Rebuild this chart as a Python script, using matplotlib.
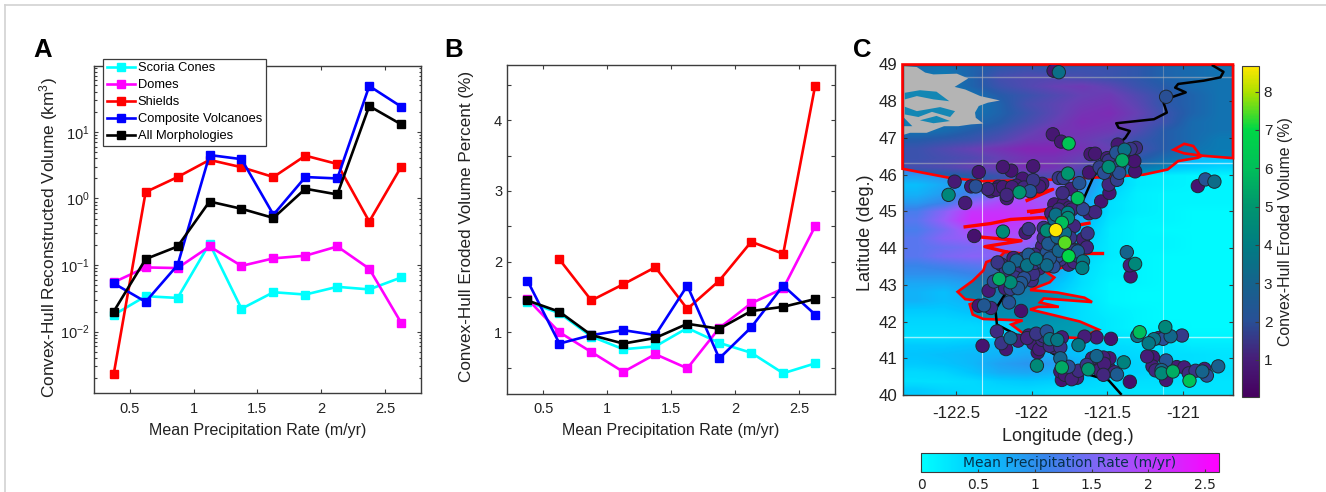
#Three panel figure: reconstructed volume, eroded percent, map of volcanoes

import numpy as np
import matplotlib
matplotlib.use('Agg')
import matplotlib.pyplot as plt
from matplotlib.cm import ScalarMappable
from matplotlib.colors import LinearSegmentedColormap, Normalize
from matplotlib.lines import Line2D
from matplotlib.patches import Polygon

plt.rcParams['font.family'] = ['Liberation Sans', 'DejaVu Sans']
plt.rcParams['mathtext.default'] = 'regular'

W, H = 1326, 492
DARK = '#3c3c3c'

rate = [0.375, 0.625, 0.875, 1.125, 1.375, 1.625, 1.875, 2.125, 2.375, 2.625]
names = ['Scoria Cones', 'Domes', 'Shields', 'Composite Volcanoes', 'All Morphologies']
colors = ['#00ffff', '#ff00ff', '#ff0000', '#0000ff', '#000000']

vol_scoria = [0.0178, 0.034, 0.032, 0.21, 0.022, 0.039, 0.036, 0.047, 0.043, 0.065]
vol_domes = [0.055, 0.092, 0.09, 0.19, 0.097, 0.126, 0.138, 0.19, 0.088, 0.0135]
vol_shields = [0.0023, 1.25, 2.1, 3.8, 2.95, 2.1, 4.4, 3.3, 0.45, 3.0]
vol_composite = [0.053, 0.028, 0.1, 4.5, 3.9, 0.57, 2.1, 2.0, 49, 24]
vol_all = [0.02, 0.123, 0.19, 0.9, 0.7, 0.51, 1.4, 1.15, 24.5, 13]

ero_scoria = [1.43, 1.27, 0.94, 0.76, 0.8, 1.06, 0.85, 0.71, 0.42, 0.56]
ero_domes = [1.47, 1.0, 0.72, 0.44, 0.69, 0.49, 1.06, 1.41, 1.62, 2.5]
ero_shields = [np.nan, 2.03, 1.45, 1.68, 1.92, 1.33, 1.73, 2.28, 2.11, 4.49]
ero_composite = [1.73, 0.84, 0.96, 1.03, 0.96, 1.66, 0.63, 1.07, 1.66, 1.25]
ero_all = [1.45, 1.29, 0.96, 0.84, 0.92, 1.12, 1.05, 1.3, 1.36, 1.47]

precip = [
    [.9, .8, 1.0, 1.2, 1.3, 1.2, 1.3, 1.3, 1.2, 1.0, .9, .8],
    [.8, .7, 1.0, 1.4, 1.5, 1.5, 1.4, 1.3, 1.2, 1.0, .9, .8],
    [.7, .7, 1.0, 1.3, 1.5, 1.7, 1.8, 1.6, 1.3, 1.1, .9, .8],
    [.7, .6, .8, 1.1, 1.3, 1.5, 1.7, 1.8, 1.5, 1.2, 1.0, .8],
    [.6, .6, .7, 1.0, 1.4, 1.6, 1.8, 1.9, 1.6, 1.2, 1.0, .8],
    [.7, .7, .8, 1.0, 1.3, 1.6, 1.9, 2.0, 1.7, 1.3, 1.0, .8],
    [.7, .8, .9, 1.1, 1.4, 1.7, 2.0, 1.9, 1.6, 1.3, .9, .8],
    [.8, .9, 1.1, 1.3, 1.6, 1.9, 1.9, 1.8, 1.5, 1.1, .9, .8],
    [1.1, 1.2, 1.3, 1.5, 1.8, 1.9, 1.8, 1.6, 1.3, 1.1, .9, .7],
    [1.3, 1.5, 1.7, 1.9, 2.1, 2.1, 1.9, 1.7, 1.4, 1.1, .8, .7],
    [1.3, 1.4, 1.5, 1.7, 1.9, 1.9, 1.7, 1.5, 1.2, .9, .7, .6],
    [1.4, 1.5, 1.7, 1.8, 2.0, 1.9, 1.6, 1.1, .8, .6, .5, .4],
    [.9, 1.0, 1.1, 1.3, 1.5, 1.5, 1.2, .5, .2, .15, .1, .1],
    [.6, .8, 1.0, 1.3, 1.5, 1.6, 1.1, .5, .2, .15, .1, .1],
    [.7, .9, 1.2, 1.5, 1.7, 1.6, 1.0, .4, .15, .1, .1, .1],
    [.9, 1.1, 1.6, 1.9, 1.9, 1.7, .9, .3, .15, .1, .1, .1],
    [1.2, 1.6, 2.1, 2.1, 2.0, 1.7, .8, .3, .15, .1, .05, .05],
    [1.3, 1.7, 2.2, 2.2, 2.0, 1.6, .7, .25, .1, .1, .05, .05],
    [1.2, 1.5, 1.9, 2.0, 1.9, 1.5, .6, .2, .1, .05, .05, .05],
    [1.3, 1.6, 1.7, 1.8, 1.8, 1.4, .5, .2, .1, .1, .05, .05],
    [1.3, 1.4, 1.5, 1.6, 1.6, 1.2, .4, .2, .1, .1, .05, .05],
    [1.3, 1.5, 1.6, 1.6, 1.5, 1.1, .4, .2, .1, .05, .05, .05],
    [1.1, 1.2, 1.3, 1.4, 1.3, .9, .35, .15, .1, .05, .05, .05],
    [1.0, 1.0, 1.1, 1.2, 1.1, .8, .3, .15, .1, .05, .05, .05],
    [.8, .8, .9, 1.0, 1.0, .6, .3, .1, .1, .05, .05, .05],
    [.7, .6, .8, .9, .8, .5, .25, .1, .05, .05, .05, .05],
    [.7, .6, .7, .8, .7, .5, .3, .1, .05, .05, .05, .05],
    [.5, .5, .6, .6, .6, .5, .3, .15, .1, .05, .05, .05],
    [.4, .4, .45, .5, .5, .45, .3, .2, .1, .05, .05, .05],
    [.35, .35, .35, .4, .4, .35, .3, .2, .1, .1, .05, .05],
    [.3, .3, .35, .4, .45, .4, .3, .25, .2, .15, .1, .1],
    [.5, .5, .55, .65, .7, .6, .5, .35, .3, .3, .2, .2],
    [.55, .6, .65, .7, .8, .7, .55, .4, .35, .3, .3, .25],
    [.5, .55, .65, .85, .95, .9, .7, .5, .4, .35, .3, .25],
    [.35, .4, .55, .75, .8, .7, .55, .4, .4, .3, .3, .3],
    [.3, .3, .35, .45, .5, .45, .4, .3, .3, .3, .3, .25],
    [.5, .4, .35, .35, .35, .3, .3, .3, .25, .25, .25, .25],
]

#volcanoes
lon = [-121.855, -121.82, -121.11, -121.86, -121.805, -121.755, -121.61, -121.58, -121.43, -121.385,
       -121.345, -121.31, -121.49, -121.47, -121.435, -121.40, -121.49, -121.32, -121.315, -121.52,
       -121.42, -121.435, -121.49, -121.485, -121.54, -121.58, -121.66, -121.62, -121.76, -121.82,
       -121.79, -121.685, -121.74, -121.795, -121.695, -121.99, -122.19, -122.135, -122.35, -122.51,
       -122.06, -121.99, -121.93, -121.95, -122.40, -122.37, -122.29, -122.235, -122.19, -122.13,
       -122.165, -122.165, -122.08, -122.01, -122.55, -122.44, -122.38, -122.19, -122.04, -122.02,
       -121.85, -121.79, -121.735, -121.84, -121.76, -121.76, -121.80, -121.90, -121.92, -121.84,
       -121.78, -121.83, -121.92, -121.89, -121.78, -121.745, -121.66, -121.63, -121.635, -121.67,
       -121.695, -121.82, -121.90, -121.755, -122.225, -122.15, -122.10, -122.03, -121.97, -122.02,
       -122.12, -121.90, -121.99, -121.855, -121.66, -121.665, -121.755, -121.81, -122.10, -122.02,
       -122.215, -122.14, -122.25, -122.285, -122.07, -122.09, -122.175, -122.14, -122.35, -122.315,
       -122.27, -122.15, -122.07, -122.23, -122.14, -122.20, -122.17, -122.325, -122.09, -122.02,
       -121.97, -121.90, -121.96, -121.99, -121.88, -121.83, -121.80, -121.81, -121.88, -121.65,
       -121.57, -121.475, -121.69, -121.965, -121.81, -121.57, -121.525, -121.485, -121.80, -121.756,
       -121.81, -121.80, -121.735, -121.69, -121.635, -121.625, -121.55, -121.49, -121.525, -121.435,
       -121.39, -121.35, -121.37, -121.315, -121.35, -121.345, -120.90, -120.85, -120.79, -121.285,
       -121.30, -121.115, -121.19, -121.225, -121.16, -121.13, -121.08, -121.005, -121.235, -121.197,
       -121.20, -121.18, -121.14, -121.11, -121.14, -121.065, -121.11, -121.04, -120.99, -120.96,
       -120.955, -120.915, -120.87, -120.84, -120.856, -120.765,
       -122.2, -122.17, -122.07, -122.05, -121.98, -121.93, -121.88, -121.83, -121.7, -121.72,
       -121.95, -121.98, -122.05, -122.11, -122.18, -122.05, -122.0, -121.87, -121.82, -121.75,
       -121.68, -121.62, -121.85, -121.72, -121.87, -121.85, -121.93, -121.82, -121.75, -121.72,
       -122.22, -122.1, -122.05, -122.27, -122.05, -121.93, -121.85, -121.95, -121.92, -121.83,
       -121.87, -122.03, -121.95, -121.55, -121.45, -121.78, -121.70, -121.52, -121.6, -121.5,
       -121.55, -121.42, -121.45, -121.4, -121.44, -121.5]
lat = [48.83, 48.79, 48.12, 47.10, 46.90, 46.85, 46.56, 46.57, 46.82, 46.68,
       46.70, 46.73, 46.38, 46.41, 46.37, 46.39, 46.21, 46.37, 46.09, 46.05,
       46.05, 45.86, 45.73, 45.50, 45.27, 44.98, 45.06, 46.06, 46.03, 45.91,
       45.91, 45.77, 45.61, 45.50, 45.36, 46.23, 46.21, 46.11, 46.07, 45.81,
       45.89, 45.85, 45.75, 45.68, 45.68, 45.68, 45.61, 45.59, 45.66, 45.66,
       45.45, 45.36, 45.52, 45.55, 45.45, 45.23, 44.33, 44.45, 44.42, 44.52,
       45.19, 45.19, 45.05, 44.91, 44.96, 44.82, 44.69, 44.48, 44.55, 44.49,
       44.41, 44.30, 44.28, 44.12, 44.15, 44.28, 44.25, 44.40, 44.02, 44.0,
       43.91, 43.93, 43.87, 43.78, 43.61, 43.46, 43.66, 43.53, 43.71, 43.82,
       43.73, 43.53, 43.30, 43.5, 43.64, 43.46, 43.55, 43.69, 43.32, 43.37,
       43.16, 43.07, 43.09, 42.84, 43.05, 42.91, 42.91, 42.89, 42.43, 42.44,
       42.37, 42.52, 42.29, 41.73, 41.55, 41.41, 41.25, 41.34, 41.48, 41.62,
       41.67, 41.73, 41.16, 41.41, 41.52, 41.50, 41.57, 41.30, 41.34, 41.59,
       41.57, 41.53, 41.36, 40.80, 41.0, 41.06, 41.02, 41.0, 40.75, 40.77,
       40.64, 40.41, 40.43, 40.66, 40.82, 40.70, 40.68, 40.73, 40.55, 40.56,
       40.89, 40.36, 43.89, 43.57, 43.53, 43.23, 45.69, 45.87, 45.81, 41.71,
       41.61, 41.85, 41.52, 41.41, 41.55, 41.53, 41.60, 41.62, 41.05, 41.03,
       40.78, 40.67, 40.68, 40.94, 40.59, 40.64, 40.41, 40.76, 40.75, 40.59,
       40.39, 40.66, 40.64, 40.53, 40.71, 40.78,
       43.55, 43.4, 43.45, 43.6, 43.6, 43.62, 43.72, 43.78, 43.8, 43.62,
       43.45, 43.82, 43.72, 43.2, 43.0, 43.18, 43.12, 44.95, 45.05, 45.1,
       45.12, 44.95, 44.78, 44.6, 44.4, 44.18, 44.05, 44.05, 44.05, 43.93,
       45.67, 45.7, 45.6, 45.55, 45.65, 41.5, 41.3, 41.33, 41.6, 41.38,
       41.42, 41.55, 41.25, 40.75, 40.62, 40.55, 40.47, 40.85, 41.0, 46.3,
       46.2, 46.25, 46.15, 46.5, 46.6, 46.45]
eroded = [0.8, 3.5, 2.0, 0.8, 0.8, 6.3, 0.8, 0.8, 0.8, 3.5,
          1.5, 1.3, 1.5, 1.3, 1.5, 5.5, 4.6, 0.7, 0.7, 2.0,
          2.0, 1.7, 1.2, 0.8, 0.7, 1.2, 1.8, 0.7, 5.0, 1.5,
          1.7, 2.2, 1.0, 1.3, 6.0, 0.8, 0.8, 0.7, 0.7, 0.9,
          0.8, 1.5, 0.9, 1.0, 0.7, 2.0, 1.2, 0.9, 0.9, 1.0,
          1.2, 0.9, 5.0, 2.2, 4.4, 0.9, 0.6, 4.6, 0.9, 1.5,
          0.8, 0.9, 1.1, 3.5, 4.0, 4.6, 6.0, 4.6, 1.4, 8.67,
          3.5, 3.0, 1.2, 2.5, 7.5, 1.5, 1.0, 1.5, 1.2, 1.0,
          2.5, 3.0, 2.2, 7.0, 1.5, 3.2, 3.0, 3.6, 3.8, 2.5,
          1.0, 3.3, 1.4, 2.0, 3.8, 4.0, 1.0, 1.5, 1.2, 1.3,
          5.6, 4.6, 1.8, 0.9, 2.4, 2.5, 1.0, 1.7, 0.7, 2.4,
          1.2, 2.2, 0.6, 1.3, 3.0, 1.5, 0.8, 0.7, 1.0, 1.0,
          1.5, 2.2, 0.7, 1.0, 3.7, 3.8, 1.0, 1.5, 1.3, 1.0,
          0.9, 0.6, 3.8, 4.5, 3.0, 3.0, 1.0, 0.8, 5.5, 2.0,
          0.8, 0.7, 1.1, 1.3, 1.5, 5.0, 1.0, 0.7, 1.2, 2.6,
          4.2, 0.5, 3.0, 4.4, 1.0, 0.8, 0.7, 2.2, 3.4, 6.0,
          3.5, 4.4, 3.6, 3.8, 1.3, 2.0, 3.2, 1.6, 1.0, 0.8,
          1.0, 1.2, 3.0, 2.2, 4.5, 5.6, 0.8, 0.9, 1.0, 1.3,
          6.2, 1.5, 3.0, 2.0, 1.0, 2.8,
          1.2, 1.5, 1.3, 1.8, 1.5, 2.2, 2.5, 2.0, 1.5, 1.2,
          1.1, 1.3, 1.7, 1.5, 0.9, 2.0, 1.4, 1.0, 1.3, 1.0,
          0.9, 1.0, 3.2, 1.2, 1.5, 2.0, 1.0, 1.8, 1.1, 1.6,
          0.8, 0.9, 1.0, 0.8, 1.2, 1.2, 1.2, 0.9, 1.4, 1.3,
          1.0, 1.1, 1.0, 0.9, 1.1, 0.8, 1.0, 1.0, 1.0, 1.4,
          1.7, 2.0, 1.5, 1.2, 2.2, 1.0]

#red outline of the northern region
north_lon = [-122.855, -120.667, -120.667, -120.88, -120.99, -121.06, -120.99, -120.93, -120.88, -120.9,
             -121.03, -121.1, -121.26, -121.44, -121.88, -122.32, -122.54, -122.855]
north_lat = [49, 49, 46.45, 46.52, 46.58, 46.68, 46.84, 46.78, 46.5, 46.46,
             46.37, 46.14, 46.0, 45.95, 45.86, 45.82, 45.91, 46.16]

#red outline of the southern region
south_lon = [-121.557, -121.68, -121.83, -122.01, -121.955, -121.82, -121.945, -121.92, -121.60, -121.65,
             -121.83, -122.01, -121.88, -121.85, -121.90, -121.79, -121.655, -122.175, -122.21, -122.30,
             -122.32, -122.39, -122.49, -122.44, -122.34, -122.41, -122.39, -122.32, -122.06, -122.135,
             -122.06, -121.83, -121.68]
south_lat = [41.78, 42.0, 42.15, 42.33, 42.40, 42.40, 42.52, 42.63, 42.53, 42.65,
             42.79, 42.86, 43.07, 43.2, 43.34, 43.48, 43.66, 43.91, 43.76, 43.62,
             43.39, 43.11, 42.81, 42.61, 42.56, 42.47, 42.19, 42.07, 42.03, 41.92,
             41.69, 41.58, 41.55]

#thin red contour spikes between the two regions
spike_lons = [[-122.44, -122.27, -122.14, -121.94, -121.85, -121.70, -121.62],
              [-122.36, -122.07, -122.31, -122.17],
              [-122.03, -121.86, -122.02],
              [-122.02, -121.88, -122.0],
              [-121.74, -121.535]]
spike_lats = [[44.58, 44.67, 44.78, 44.83, 44.80, 44.62, 44.68],
              [44.31, 44.2, 44.04, 43.9],
              [45.30, 45.60, 45.42],
              [45.0, 45.05, 44.97],
              [43.87, 43.87]]

#puget sound and the land inside it
water_lon = [-122.845, -122.76, -122.705, -122.65, -122.495, -122.42, -122.51, -122.44, -122.34, -122.21, -122.29, -122.35,
             -122.375, -122.37, -122.32, -122.40, -122.485, -122.58, -122.695, -122.805, -122.845, -122.845, -122.79, -122.845]
water_lat = [48.96, 48.93, 48.78, 48.73, 48.75, 48.62, 48.39, 48.32, 48.14, 48.02, 47.96, 47.87,
             47.69, 47.55, 47.39, 47.37, 47.32, 47.32, 47.14, 47.14, 47.09, 47.32, 47.32, 47.55]
land_lons = [[-122.84, -122.74, -122.63, -122.545, -122.65, -122.76, -122.84],
             [-122.84, -122.76, -122.606, -122.507, -122.54, -122.66, -122.75, -122.84],
             [-122.74, -122.63, -122.54, -122.65]]
land_lats = [[48.23, 48.30, 48.26, 48.0, 48.05, 48.14, 48.05],
             [47.85, 47.73, 47.84, 47.73, 47.57, 47.71, 47.57, 47.64],
             [47.48, 47.6, 47.46, 47.4]]

#black arc line
arc_lon = [-120.80, -120.73, -120.75, -120.86, -121.03, -121.05, -120.98, -121.08, -121.13, -121.105,
           -121.19, -121.44, -121.425, -121.35, -121.38, -121.43, -121.59, -121.66, -121.92, -122.175,
           -122.24, -122.23, -122.06, -121.88, -121.75, -121.61, -121.49, -121.41]
arc_lat = [48.97, 48.80, 48.65, 48.56, 48.47, 48.37, 48.24, 48.10, 48.0, 47.69,
           47.51, 47.40, 47.28, 47.19, 47.0, 46.82, 45.95, 45.3, 43.76, 42.75,
           42.33, 41.92, 41.55, 41.18, 40.86, 40.54, 40.40, 40.03]

seam_lons = [-122.33, -121.13]
seam_lats = [48.65, 46.32, 41.58]

precip_cmap = LinearSegmentedColormap.from_list('precip', [
    (0.0, (0.0, 1.0, 1.0)), (0.2, (0.0, 0.78, 1.0)), (0.42, (0.22, 0.52, 0.92)),
    (0.65, (0.60, 0.36, 0.98)), (1.0, (1.0, 0.0, 1.0))])
eroded_cmap = LinearSegmentedColormap.from_list('eroded', [
    (0.0, '#46005f'), (0.12, '#46207a'), (0.23, '#285096'), (0.35, '#14648c'), (0.46, '#007d82'),
    (0.58, '#00966e'), (0.69, '#00be5a'), (0.81, '#00d746'), (0.92, '#aae100'), (1.0, '#ffe600')])


#axes placed from pixel box of the reference
def pixelAxes(fig, left, top, right, bottom):
    return fig.add_axes([left / W, 1 - bottom / H, (right - left) / W, (bottom - top) / H])


def styleBox(ax, size=10.5):
    ax.tick_params(which='both', direction='in', top=True, right=True, length=3,
                   width=0.8, color=DARK, labelsize=size, labelcolor='#222222')
    ax.tick_params(which='minor', length=1.8)
    for s in ax.spines.values():
        s.set_color(DARK)
        s.set_linewidth(1.0)


def drawLines(ax, series):
    for y, c, n in zip(series, colors, names):
        ax.plot(rate, y, color=c, lw=1.9, marker='s', ms=6, mec=c, label=n)


fig = plt.figure(figsize=(W / 100, H / 100), dpi=100)

#thin frame of the page
fig.add_artist(Line2D([4.5 / W, 4.5 / W], [0, 1 - 4.5 / H], color='#d2d2d2', lw=1.2))
fig.add_artist(Line2D([4.5 / W, 1], [1 - 4.5 / H, 1 - 4.5 / H], color='#d2d2d2', lw=1.2))

#A
ax = pixelAxes(fig, 94.3, 66, 421, 393.3)
drawLines(ax, [vol_scoria, vol_domes, vol_shields, vol_composite, vol_all])
ax.set_yscale('log')
ax.set_xlim(0.223, 2.78)
ax.set_ylim(1.18e-3, 98)
ax.set_xticks([0.5, 1, 1.5, 2, 2.5], ['0.5', '1', '1.5', '2', '2.5'])
ax.set_yticks([1e-2, 1e-1, 1, 10])
styleBox(ax)
ax.tick_params(axis='x', pad=6)
ax.set_xlabel('Mean Precipitation Rate (m/yr)', fontsize=11.5, color='#222222', labelpad=5)
ax.set_ylabel('Convex-Hull Reconstructed Volume (km$^3$)', fontsize=12.4, color='#222222')
ax.yaxis.set_label_coords(-0.105, 0.477)
leg = ax.legend(loc='upper left', bbox_to_anchor=(0.027, 1.022), fontsize=9.3, fancybox=False,
                framealpha=1, edgecolor=DARK, borderpad=0.28, labelspacing=0.38,
                handlelength=2.2, handletextpad=0.2, borderaxespad=0)
leg.get_frame().set_linewidth(0.9)
leg.set_zorder(10)

#B
ax = pixelAxes(fig, 507, 65, 835, 394)
drawLines(ax, [ero_scoria, ero_domes, ero_shields, ero_composite, ero_all])
ax.set_xlim(0.215, 2.78)
ax.set_ylim(0.127, 4.78)
ax.set_xticks([0.5, 1, 1.5, 2, 2.5], ['0.5', '1', '1.5', '2', '2.5'])
ax.set_yticks([1, 2, 3, 4])
ax.set_yticks([0.5, 1.5, 2.5, 3.5, 4.5], minor=True)
styleBox(ax)
ax.tick_params(which='minor', length=3)
ax.tick_params(axis='x', pad=6)
ax.set_xlabel('Mean Precipitation Rate (m/yr)', fontsize=11.5, color='#222222', labelpad=5)
ax.set_ylabel('Convex-Hull Eroded Volume Percent (%)', fontsize=12.3, color='#222222')
ax.yaxis.set_label_coords(-0.102, 0.51)

#C
ax = pixelAxes(fig, 902.5, 64.5, 1233, 395)
ax.imshow(precip, extent=[-122.855, -120.667, 40, 49], aspect='auto', origin='upper',
          cmap=precip_cmap, vmin=0, vmax=2.62, interpolation='bilinear', zorder=1)
for x in seam_lons:
    ax.axvline(x, color='white', lw=0.8, alpha=0.45 if x > -122 else 0.7, zorder=1.5)
for y in seam_lats:
    ax.axhline(y, color='white', lw=1.0, alpha=0.6, zorder=1.5)
ax.add_patch(Polygon(np.column_stack([north_lon, north_lat]), closed=True, fc='#000a28', alpha=0.33, ec='none', zorder=2))
ax.add_patch(Polygon(np.column_stack([south_lon, south_lat]), closed=True, fc='#003c3c', alpha=0.4, ec='none', zorder=2))
ax.add_patch(Polygon(np.column_stack([water_lon, water_lat]), closed=True, fc='#b4b4b4', ec='none', zorder=2.5))
for xs, ys in zip(land_lons, land_lats):
    ax.add_patch(Polygon(np.column_stack([xs, ys]), closed=True, fc='#1487b4', ec='none', zorder=2.6))
ax.add_patch(Polygon(np.column_stack([north_lon, north_lat]), closed=True, fc='none', ec='#ff0000', lw=1.9, zorder=3, clip_on=False))
ax.add_patch(Polygon(np.column_stack([south_lon, south_lat]), closed=True, fc='none', ec='#ff0000', lw=1.9, zorder=3))
for xs, ys in zip(spike_lons, spike_lats):
    ax.plot(xs, ys, color='#ff0000', lw=2.4, zorder=3)
ax.plot(arc_lon, arc_lat, color='black', lw=1.8, zorder=4)
order = np.argsort(eroded)
ax.scatter(np.array(lon)[order], np.array(lat)[order], c=np.array(eroded)[order], s=92, cmap=eroded_cmap,
           vmin=0.03, vmax=8.67, edgecolors='#1e2832', linewidths=0.7, zorder=5)
ax.set_xlim(-122.855, -120.667)
ax.set_ylim(40, 49)
ax.set_xticks([-122.5, -122, -121.5, -121], ['-122.5', '-122', '-121.5', '-121'])
ax.set_yticks(range(40, 50))
styleBox(ax, 12.2)
ax.tick_params(axis='x', pad=8)
ax.set_xlabel('Longitude (deg.)', fontsize=13, color='#222222', labelpad=5)
ax.set_ylabel('Latitude (deg.)', fontsize=13, color='#222222')
ax.yaxis.set_label_coords(-0.086, 0.49)

#colorbars
cax = pixelAxes(fig, 1242, 66, 1259, 397)
cb = fig.colorbar(ScalarMappable(Normalize(0.03, 8.67), eroded_cmap), cax=cax)
cb.set_ticks(range(1, 9))
cb.ax.tick_params(direction='in', length=3, width=0.8, color=DARK, labelsize=11, labelcolor='#222222')
cb.outline.set_edgecolor(DARK)
cb.set_label('Convex-Hull Eroded Volume (%)', fontsize=11.4, color='#222222', labelpad=4)

hax = pixelAxes(fig, 921, 453, 1219, 472)
hb = fig.colorbar(ScalarMappable(Normalize(0, 2.62), precip_cmap), cax=hax, orientation='horizontal')
hb.set_ticks([0, 0.5, 1, 1.5, 2, 2.5], labels=['0', '0.5', '1', '1.5', '2', '2.5'])
hb.ax.tick_params(direction='in', length=2, width=0.8, color=DARK, labelsize=10, labelcolor='#222222', pad=4)
for t in hb.ax.get_xticklabels():
    t.set_family('DejaVu Sans')
hb.outline.set_edgecolor(DARK)
hax.text(0.5, 0.47, 'Mean Precipitation Rate (m/yr)', transform=hax.transAxes, ha='center', va='center',
         fontsize=10, family='DejaVu Sans', color='#05304a')

#panel letters
for letter, x in zip(['A', 'B', 'C'], [33, 444, 853]):
    fig.text(x / W, 1 - 57 / H, letter, fontsize=18.5, fontweight='bold', color='black', ha='left', va='baseline')

fig.savefig('out.png', dpi=100)
